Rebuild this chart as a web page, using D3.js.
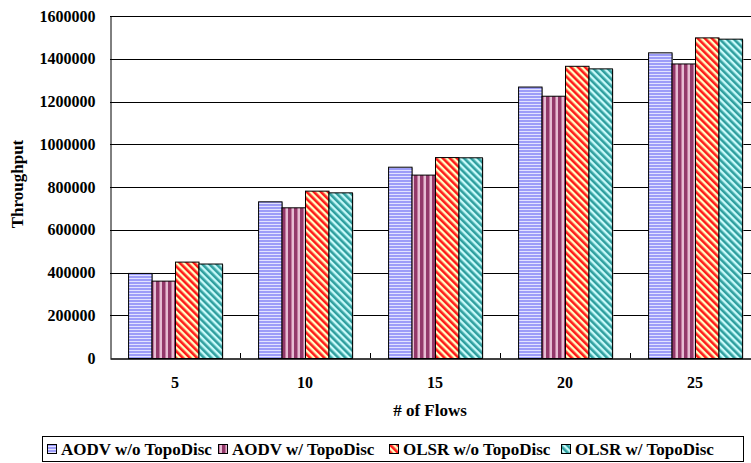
<!DOCTYPE html>
<html><head><meta charset="utf-8">
<script src="https://cdn.jsdelivr.net/npm/d3@7"></script>
<style>body{margin:0;background:#fff}svg{display:block}text{font-family:"Liberation Serif","Times New Roman",serif;font-weight:bold;fill:#000}</style>
</head><body><svg id="c" width="751" height="463"></svg>
<script>
const categories = ["5","10","15","20","25"];
const seriesNames = ["AODV w/o TopoDisc","AODV w/ TopoDisc","OLSR w/o TopoDisc","OLSR w/ TopoDisc"];
const aodvWithout = [398000, 733000, 895000, 1270000, 1430000];
const aodvWith    = [362000, 705000, 858000, 1227000, 1378000];
const olsrWithout = [451000, 783000, 940000, 1367000, 1500000];
const olsrWith    = [442000, 775000, 939000, 1355000, 1494000];
const yTicks = [0,200000,400000,600000,800000,1000000,1200000,1400000,1600000];
const seriesValues = [aodvWithout, aodvWith, olsrWithout, olsrWith];

const svg = d3.select("#c");
const defs = svg.append("defs");
// patterns
const pBlue = defs.append("pattern").attr("id","p0").attr("patternUnits","userSpaceOnUse").attr("width",4).attr("height",3);
pBlue.append("rect").attr("width",4).attr("height",3).attr("fill","#9c9cf8");
pBlue.append("rect").attr("y",2).attr("width",4).attr("height",1).attr("fill","#e2e2ff");
const pPur = defs.append("pattern").attr("id","p1").attr("patternUnits","userSpaceOnUse").attr("width",6).attr("height",4);
pPur.append("rect").attr("width",6).attr("height",4).attr("fill","#e6bcd3");
pPur.append("rect").attr("x",0).attr("width",3).attr("height",4).attr("fill","#93386a");
pPur.append("rect").attr("x",3).attr("width",1).attr("height",4).attr("fill","#c27a9f");
function diag(id, bg, fg, dir){
  const p = defs.append("pattern").attr("id",id).attr("patternUnits","userSpaceOnUse").attr("width",5).attr("height",5)
    .attr("patternTransform","rotate("+(dir>0?45:-45)+")");
  p.append("rect").attr("width",5).attr("height",5).attr("fill",bg);
  p.append("rect").attr("width",2.6).attr("height",5).attr("fill",fg);
}
diag("p2","#ffffc4","#ff1a1a",-1);
diag("p3","#c8fafa","#2f9f9f",-1);
const fills = ["url(#p0)","url(#p1)","url(#p2)","url(#p3)"];

const L = 110, R = 760, T = 16, B = 358;
const y = d3.scaleLinear().domain([0,1600000]).range([B,T]);
const x0 = d3.scaleBand().domain(categories).range([L,R]).padding(0);
const x1 = d3.scaleBand().domain(seriesNames).range([0,x0.bandwidth()]).paddingInner(0).paddingOuter(0.77);

// gridlines
svg.append("g").selectAll("line").data(yTicks.slice(1)).join("line")
  .attr("x1",L).attr("x2",R).attr("y1",d=>Math.round(y(d))+0.5).attr("y2",d=>Math.round(y(d))+0.5)
  .attr("stroke","#000").attr("stroke-width",1);

// bars
const g = svg.append("g");
categories.forEach((c,i)=>{
  seriesNames.forEach((s,j)=>{
    const v = seriesValues[j][i];
    const bx = x0(c)+x1(s), by = y(v), bw = x1.bandwidth(), bh = B - y(v);
    g.append("rect").attr("x",bx+1.5).attr("y",by+1).attr("width",bw).attr("height",bh-1).attr("fill","#b0b0b0");
    g.append("rect").attr("x",bx+0.5).attr("y",by+0.5).attr("width",bw).attr("height",bh).attr("fill",fills[j])
      .attr("stroke","#000").attr("stroke-width",1);
  });
});

// axes
const yAxis = d3.axisLeft(y).tickValues(yTicks).tickSize(0).tickPadding(15).tickFormat(d3.format("d"));
const ya = svg.append("g").attr("transform",`translate(${L+0.5},0)`).call(yAxis);
ya.select(".domain").attr("stroke","#000");
ya.selectAll("text").style("font-size","16px").style("font-family","Liberation Serif").style("font-weight","bold");

const xa = svg.append("g").attr("transform",`translate(0,${B+0.5})`)
  .call(d3.axisBottom(x0).tickSize(0).tickPadding(18));
xa.select(".domain").attr("stroke","#000").attr("stroke-width",1.5);
xa.selectAll("text").style("font-size","16px").style("font-family","Liberation Serif").style("font-weight","bold");
// category boundary ticks
svg.append("g").selectAll("line").data(categories.slice(1)).join("line")
  .attr("x1",d=>x0(d)+0.5).attr("x2",d=>x0(d)+0.5).attr("y1",B-5).attr("y2",B).attr("stroke","#000");

// titles
svg.append("text").attr("x",430).attr("y",416).attr("text-anchor","middle").style("font-size","17px").text("# of Flows");
svg.append("text").attr("transform","translate(23,184) rotate(-90)").attr("text-anchor","middle").style("font-size","17px").text("Throughput");

// legend
const lg = svg.append("g");
lg.append("rect").attr("x",42.5).attr("y",436.5).attr("width",701).attr("height",25).attr("fill","#fff").attr("stroke","#000");
const itemX = [47, 218, 389, 561];
seriesNames.forEach((s,j)=>{
  lg.append("rect").attr("x",itemX[j]+0.5).attr("y",444.5).attr("width",9).attr("height",9).attr("fill",fills[j]).attr("stroke","#000");
  lg.append("text").attr("x",itemX[j]+14).attr("y",455).style("font-size","17px").text(s);
});
</script></body></html>
